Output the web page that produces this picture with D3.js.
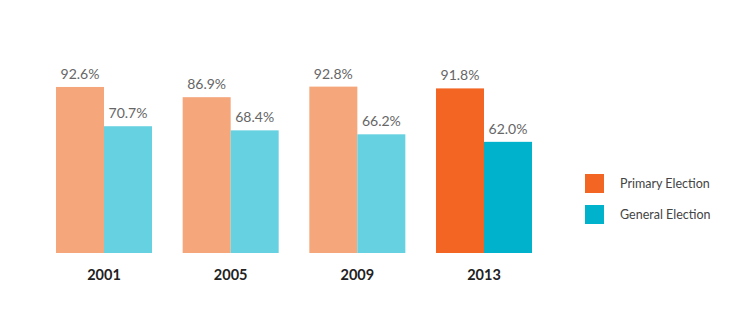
<!DOCTYPE html>
<html>
<head>
<meta charset="utf-8">
<script src="https://cdn.jsdelivr.net/npm/d3@7"></script>
<style>
  html, body { margin: 0; padding: 0; background: #fff; }
  svg { display: block; font-family: Lato, "Open Sans", sans-serif; }
</style>
</head>
<body>
<svg id="chart" width="750" height="324"></svg>
<script>
// Turnout by election year
const years = ["2001", "2005", "2009", "2013"];
const primaryValues = [92.6, 86.9, 92.8, 91.8];
const generalValues = [70.7, 68.4, 66.2, 62.0];
const seriesNames = ["Primary Election", "General Election"];

// Earlier years are shown in lighter tints; the latest year in full colour
const primaryColors = ["#F6A67B", "#F6A67B", "#F6A67B", "#F26522"];
const generalColors = ["#66D1E1", "#66D1E1", "#66D1E1", "#00B2CC"];

const svg = d3.select("#chart");

const baseY = 253;
const x = d3.scaleBand()
  .domain(years)
  .range([40.67, 547.33])
  .paddingInner(0.242)
  .paddingOuter(0.121);

const sub = d3.scaleBand()
  .domain(seriesNames)
  .range([0, x.bandwidth()]);

const y = d3.scaleLinear().domain([0, 100]).range([baseY, 73.7]);

const rows = years.map((yr, i) => ({
  year: yr,
  values: [
    { name: seriesNames[0], value: primaryValues[i], color: primaryColors[i] },
    { name: seriesNames[1], value: generalValues[i], color: generalColors[i] }
  ]
}));

const groups = svg.selectAll("g.year")
  .data(rows)
  .join("g")
  .attr("class", "year")
  .attr("transform", d => `translate(${x(d.year)},0)`);

groups.selectAll("rect")
  .data(d => d.values)
  .join("rect")
  .attr("x", d => sub(d.name))
  .attr("width", sub.bandwidth())
  .attr("y", d => y(d.value))
  .attr("height", d => baseY - y(d.value))
  .attr("fill", d => d.color);

groups.selectAll("text.val")
  .data(d => d.values)
  .join("text")
  .attr("class", "val")
  .attr("x", d => sub(d.name) + sub.bandwidth() / 2)
  .attr("y", d => y(d.value) - 8)
  .attr("text-anchor", "middle")
  .attr("font-size", 14)
  .attr("fill", "#666")
  .text(d => d.value.toFixed(1) + "%");

// Year labels along the bottom
const xAxis = d3.axisBottom(x).tickSize(0).tickPadding(0);
const axisG = svg.append("g")
  .attr("transform", `translate(0,${baseY})`)
  .call(xAxis);
axisG.select(".domain").remove();
axisG.selectAll("text")
  .attr("y", 27)
  .attr("dy", 0)
  .attr("font-family", "Lato, 'Open Sans', sans-serif")
  .attr("font-size", 14.5)
  .attr("font-weight", "bold")
  .attr("fill", "#222");

// Legend
const legend = svg.append("g").attr("transform", "translate(585,174)");
const legendItems = legend.selectAll("g")
  .data([
    { name: seriesNames[0], color: primaryColors[3] },
    { name: seriesNames[1], color: generalColors[3] }
  ])
  .join("g")
  .attr("transform", (d, i) => `translate(0,${i * 31})`);
legendItems.append("rect")
  .attr("width", 19)
  .attr("height", 19)
  .attr("fill", d => d.color);
legendItems.append("text")
  .attr("x", 35)
  .attr("y", 14)
  .attr("font-size", 12.5)
  .attr("fill", "#444")
  .text(d => d.name);
</script>
</body>
</html>
